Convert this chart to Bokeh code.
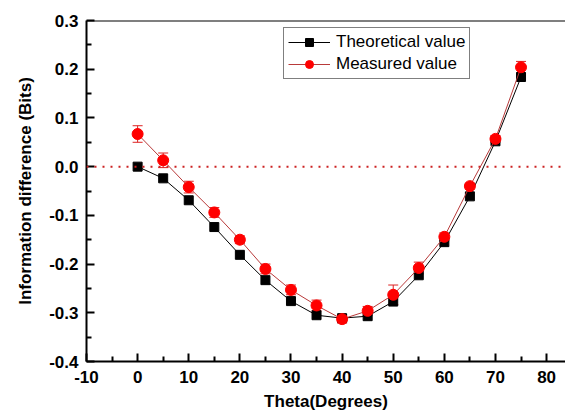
from bokeh.plotting import figure
from bokeh.models import ColumnDataSource, Span, Whisker, TeeHead, Legend, LegendItem, FixedTicker, Range1d
from bokeh.embed import file_html
from bokeh.resources import INLINE

theta = [0, 5, 10, 15, 20, 25, 30, 35, 40, 45, 50, 55, 60, 65, 70, 75]
theoretical = [0.0, -0.024, -0.069, -0.124, -0.181, -0.233, -0.276, -0.305, -0.311, -0.307,
               -0.277, -0.223, -0.155, -0.061, 0.052, 0.184]
measured = [0.067, 0.013, -0.042, -0.094, -0.150, -0.210, -0.253, -0.285, -0.313, -0.296,
            -0.263, -0.208, -0.144, -0.040, 0.057, 0.204]
errors = [0.017, 0.015, 0.012, 0.010, 0.008, 0.010, 0.010, 0.011, 0.008, 0.009,
          0.020, 0.012, 0.008, 0.006, 0.007, 0.012]
x_ticks = [-10, 0, 10, 20, 30, 40, 50, 60, 70, 80]
y_ticks = [-0.4, -0.3, -0.2, -0.1, 0.0, 0.1, 0.2, 0.3]

FONT = "Liberation Sans"

p = figure(width=565, height=416, output_backend="svg", toolbar_location=None,
           x_range=Range1d(-10, 83.7), y_range=Range1d(-0.4, 0.3),
           min_border_left=86, min_border_right=0, min_border_top=20, min_border_bottom=55)
p.outline_line_color = None
p.grid.visible = False
p.background_fill_color = "white"
p.border_fill_color = "white"

for ax in (p.xaxis[0], p.yaxis[0]):
    ax.axis_line_width = 2
    ax.axis_line_color = "black"
    ax.major_tick_in = 8
    ax.major_tick_out = 0
    ax.minor_tick_in = 5
    ax.minor_tick_out = 0
    ax.major_tick_line_width = 2
    ax.minor_tick_line_width = 2
    ax.major_label_text_font = FONT
    ax.major_label_text_font_style = "bold"
    ax.major_label_text_font_size = "17px"
    ax.major_label_text_color = "black"
    ax.axis_label_text_font = FONT
    ax.axis_label_text_font_style = "bold"
    ax.axis_label_text_font_size = "17px"
    ax.axis_label_text_color = "black"

p.xaxis.ticker = FixedTicker(ticks=x_ticks, minor_ticks=[t + 5 for t in x_ticks])
p.yaxis.ticker = FixedTicker(ticks=y_ticks, minor_ticks=[round(t + 0.05, 2) for t in y_ticks[:-1]])
p.yaxis.major_label_overrides = {t: f"{t:.1f}" for t in y_ticks}
p.xaxis.major_label_overrides = {t: f"{t}" for t in x_ticks}
p.xaxis.major_label_standoff = 9
p.yaxis.major_label_standoff = 8
p.xaxis.axis_label = "Theta(Degrees)"
p.yaxis.axis_label = "Information difference (Bits)"
p.xaxis.axis_label_standoff = 6
p.yaxis.axis_label_standoff = 11

# top frame line and dotted zero line
p.add_layout(Span(location=0.3, dimension="width", line_color="black", line_width=2))
p.add_layout(Span(location=0.0, dimension="width", line_color="#CC2222", line_width=2,
                  line_dash="2 6"))

src = ColumnDataSource(dict(x=theta, t=theoretical, m=measured,
                            lo=[m - e for m, e in zip(measured, errors)],
                            hi=[m + e for m, e in zip(measured, errors)]))

l1 = p.line("x", "t", source=src, line_color="black", line_width=1)
s1 = p.scatter("x", "t", source=src, marker="square", size=9, fill_color="black",
               line_color="black")

w = Whisker(base="x", lower="lo", upper="hi", source=src, line_color="#DD2222", line_width=1,
            upper_head=TeeHead(size=10, line_color="#DD2222", line_width=1),
            lower_head=TeeHead(size=10, line_color="#DD2222", line_width=1))
p.add_layout(w)
l2 = p.line("x", "m", source=src, line_color="#B83A3A", line_width=1)
s2 = p.scatter("x", "m", source=src, marker="circle", size=11, fill_color="#FF0000",
               line_color="#FF0000")

legend = Legend(items=[LegendItem(label="Theoretical value", renderers=[l1, s1]),
                       LegendItem(label="Measured value", renderers=[l2, s2])],
                location=(197, 282))
legend.label_text_font = FONT
legend.label_text_font_size = "17px"
legend.label_text_color = "black"
legend.glyph_width = 42
legend.glyph_height = 20
legend.label_height = 20
legend.label_standoff = 6
legend.padding = 4
legend.spacing = 2
legend.margin = 0
legend.border_line_color = "black"
legend.border_line_width = 1
legend.background_fill_alpha = 1.0
p.add_layout(legend)

open("out.html", "w").write(file_html(p, INLINE))
